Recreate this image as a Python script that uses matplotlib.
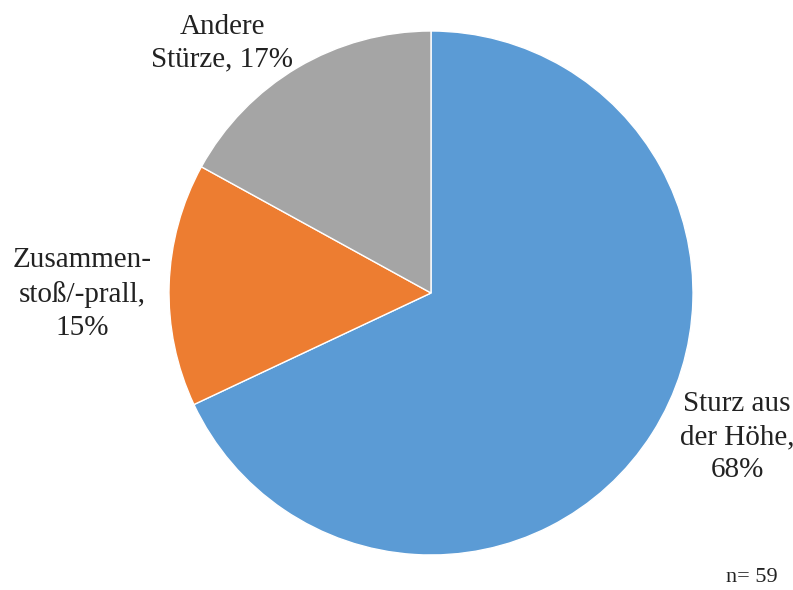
import matplotlib
matplotlib.use("Agg")
import matplotlib.pyplot as plt

# Unfallursachen, Anteile in %
kategorien = ["Sturz aus\nder Höhe,\n68%", "Zusammen-\nstoß/-prall,\n15%", "Andere\nStürze, 17%"]
anteile = [68, 15, 17]
farben = ["#5B9BD5", "#ED7D31", "#A5A5A5"]
n_text = "n= 59"

plt.rcParams['font.family'] = ['Liberation Serif', 'DejaVu Serif']

W, H = 793, 590
cx, cy, r = 431, 293, 262

fig = plt.figure(figsize=(W / 100, H / 100), dpi=100)
ax = fig.add_axes([(cx - r) / W, (H - cy - r) / H, 2 * r / W, 2 * r / H])

wedges, _ = ax.pie(anteile, colors=farben, startangle=90, counterclock=False,
                   radius=1, wedgeprops=dict(edgecolor="white", linewidth=1))
ax.set_xlim(-1, 1)
ax.set_ylim(-1, 1)
ax.set_aspect("equal")
ax.axis("off")

# Beschriftungen (Pixelposition -> Datenkoordinaten)
pos = [(737, 437), (82, 294), (222, 43)]
for txt, (px, py) in zip(kategorien, pos):
    ax.text((px - cx) / r, (cy - py) / r, txt, ha="center", va="center",
            fontsize=21, linespacing=1.35, color="#222222")

fig.text(752 / W, 1 - 578 / H, n_text, ha="center", va="center", fontsize=16, color="#222222")

fig.savefig("out.png", dpi=100)
